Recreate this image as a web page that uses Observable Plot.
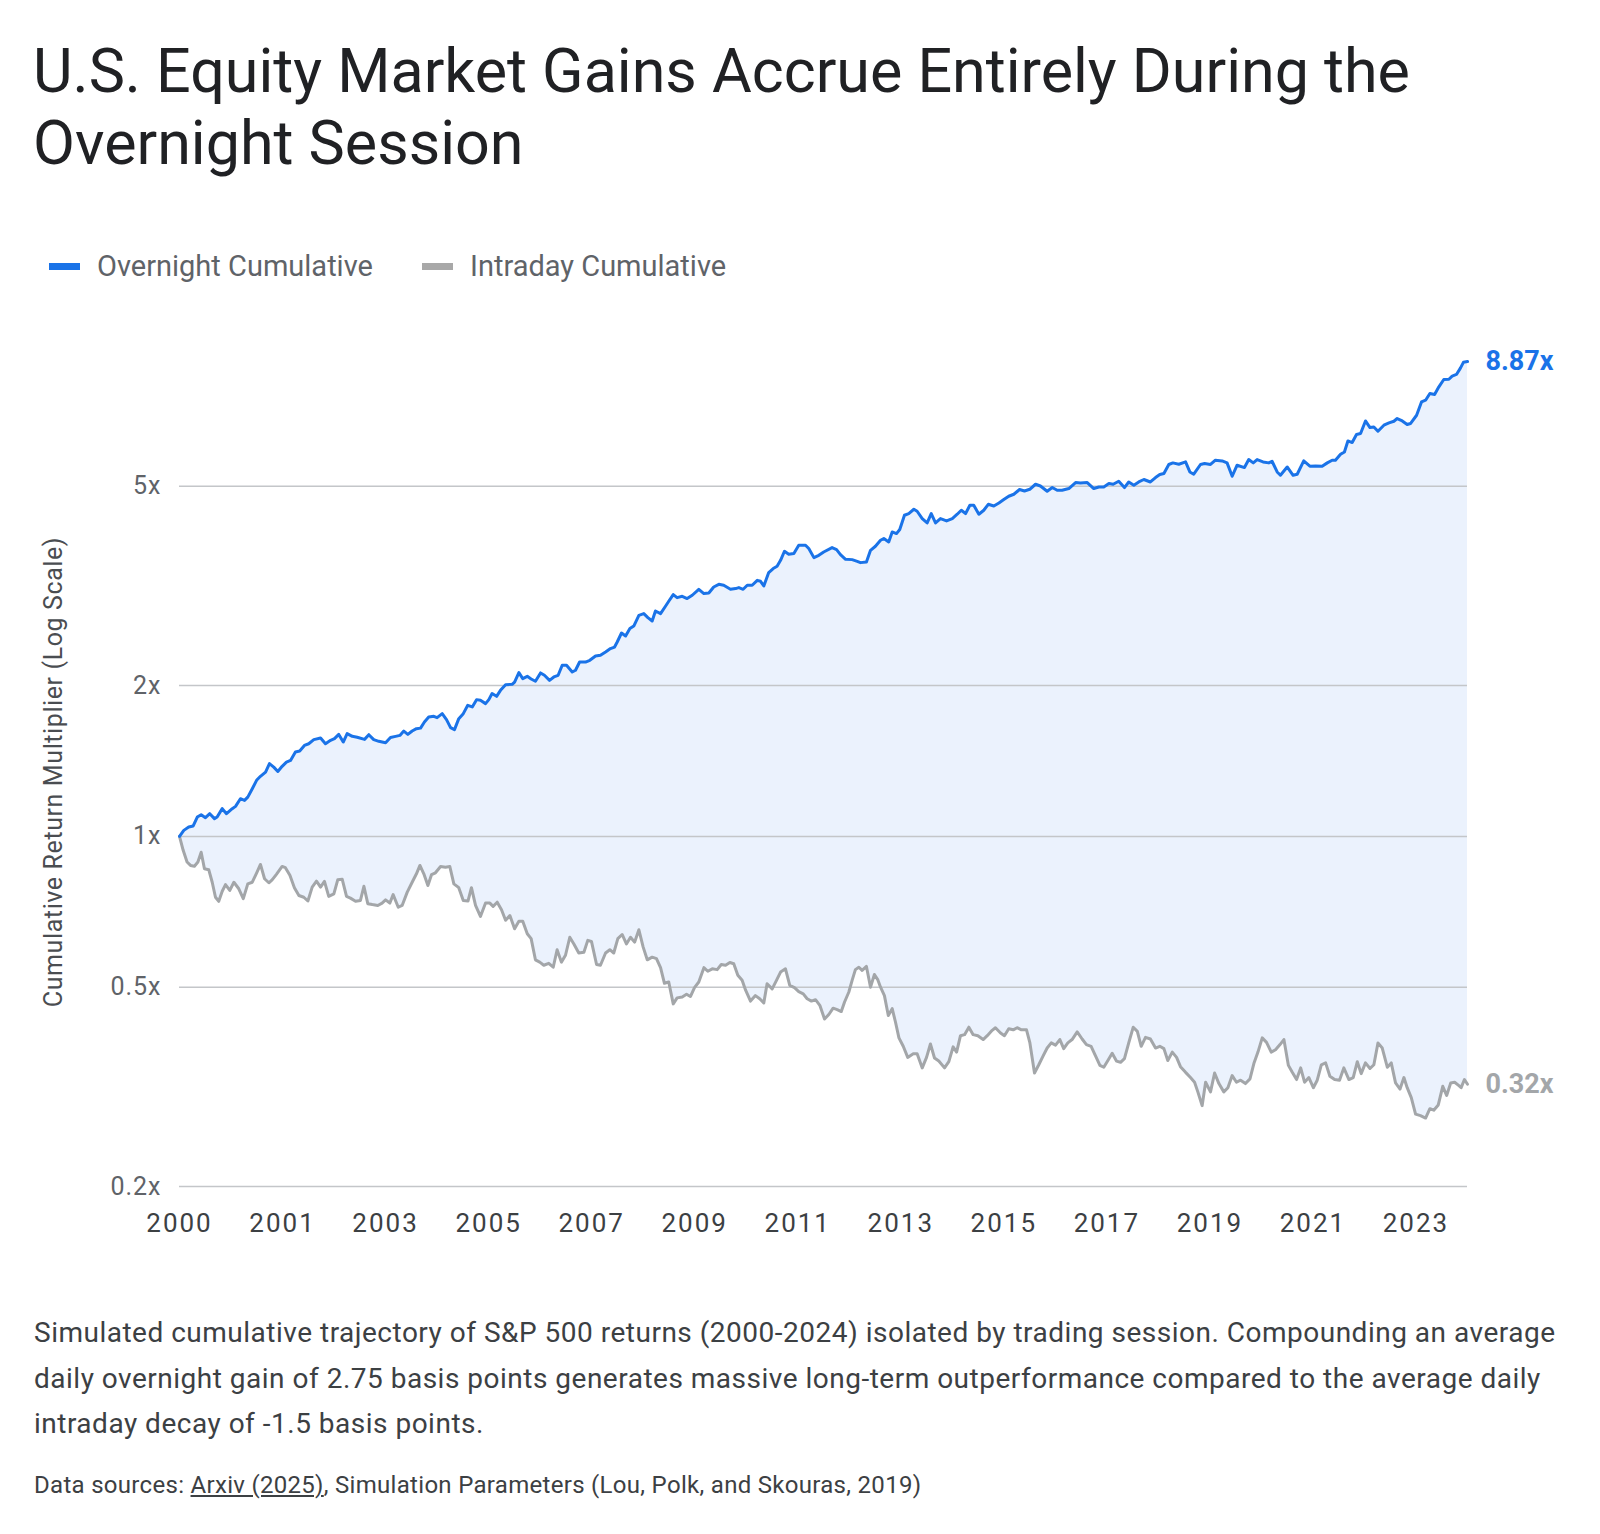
<!DOCTYPE html>
<html>
<head>
<meta charset="utf-8">
<script src="https://cdn.jsdelivr.net/npm/d3@7"></script>
<script src="https://cdn.jsdelivr.net/npm/@observablehq/plot@0.6"></script>
<style>
  body { margin: 0; background: #fff; font-family: Roboto, "Noto Sans", sans-serif; }
  #page { position: relative; width: 1600px; height: 1534px; overflow: hidden; }
  h1 { position: absolute; left: 33px; top: 35px; margin: 0; font-weight: 400; font-size: 61px; line-height: 72px; color: #202124; white-space: nowrap; }
  .legend-item { position: absolute; top: 250px; height: 32px; display: flex; align-items: center; font-size: 29px; color: #5f6368; white-space: nowrap; }
  .swatch { width: 31px; height: 7px; margin-right: 17px; }
  #ylabel { position: absolute; z-index: 2; left: 53px; top: 772px; transform: translate(-50%, -50%) rotate(-90deg); font-size: 25px; letter-spacing: 0.6px; color: #4a4d51; white-space: nowrap; }
  #chart { position: absolute; z-index: 1; left: 0; top: 300px; }
  #chart g[aria-label="x-axis tick label"] text { letter-spacing: 2px; }
  #chart g[aria-label="y-axis tick label"] text { letter-spacing: 1px; }
  #caption { position: absolute; left: 34px; top: 1310px; margin: 0; font-size: 28px; letter-spacing: 0.5px; line-height: 45.5px; color: #3c4043; white-space: nowrap; }
  #sources { position: absolute; left: 34px; top: 1471px; margin: 0; font-size: 24px; letter-spacing: 0.3px; line-height: 28px; color: #3c4043; white-space: nowrap; }
  #sources u { text-decoration: underline; }
</style>
</head>
<body>
<div id="page">
  <h1>U.S. Equity Market Gains Accrue Entirely During the<br>Overnight Session</h1>
  <div class="legend-item" style="left:49px"><span class="swatch" style="background:#1a73e8"></span>Overnight Cumulative</div>
  <div class="legend-item" style="left:422px"><span class="swatch" style="background:#a8a8a8"></span>Intraday Cumulative</div>
  <div id="chart"></div>
  <div id="ylabel">Cumulative Return Multiplier (Log Scale)</div>
  <p id="caption">Simulated cumulative trajectory of S&amp;P 500 returns (2000-2024) isolated by trading session. Compounding an average<br>daily overnight gain of 2.75 basis points generates massive long-term outperformance compared to the average daily<br>intraday decay of -1.5 basis points.</p>
  <p id="sources">Data sources: <u>Arxiv (2025)</u>, Simulation Parameters (Lou, Polk, and Skouras, 2019)</p>
</div>
<script>
// Cumulative growth of $1, indexed by trading day since the start of 2000 (252 days per year).
const overnight = [
  [0,1.00],[21,1.028],[45,1.044],[67,1.049],[87,1.093],[106,1.105],[127,1.090],[148,1.110],[171,1.085],[184,1.093],
  [209,1.136],[230,1.110],[258,1.136],[274,1.148],[298,1.189],[318,1.180],[334,1.198],[356,1.245],[377,1.294],[396,1.318],
  [421,1.344],[440,1.397],[461,1.375],[481,1.348],[502,1.380],[523,1.407],[543,1.418],[567,1.474],[588,1.481],[611,1.519],
  [632,1.531],[657,1.560],[690,1.572],[714,1.531],[739,1.555],[758,1.567],[779,1.598],[801,1.543],[820,1.604],[845,1.584],
  [869,1.577],[905,1.562],[926,1.596],[950,1.560],[975,1.548],[1008,1.538],[1032,1.575],[1057,1.584],[1078,1.591],[1097,1.623],
  [1117,1.598],[1138,1.623],[1159,1.641],[1179,1.645],[1198,1.692],[1219,1.731],[1244,1.737],[1260,1.726],[1285,1.758],[1306,1.711],
  [1326,1.649],[1345,1.634],[1366,1.718],[1388,1.758],[1410,1.827],[1432,1.813],[1453,1.875],[1472,1.869],[1497,1.841],[1513,1.875],
  [1529,1.928],[1551,1.904],[1570,1.957],[1595,2.009],[1627,2.012],[1639,2.033],[1660,2.123],[1679,2.065],[1701,2.087],[1720,2.062],
  [1741,2.040],[1766,2.120],[1785,2.097],[1810,2.049],[1831,2.081],[1852,2.097],[1872,2.196],[1893,2.196],[1921,2.129],[1937,2.146],
  [1957,2.229],[1986,2.229],[2007,2.247],[2035,2.292],[2059,2.299],[2084,2.334],[2108,2.371],[2128,2.388],[2141,2.444],[2162,2.547],
  [2182,2.512],[2203,2.599],[2222,2.630],[2247,2.763],[2271,2.785],[2291,2.734],[2312,2.692],[2328,2.818],[2353,2.785],[2377,2.880],
  [2393,2.947],[2415,3.039],[2434,2.997],[2459,3.015],[2483,2.984],[2508,3.030],[2540,3.114],[2565,3.053],[2589,3.061],[2613,3.147],
  [2638,3.186],[2662,3.172],[2695,3.114],[2720,3.124],[2736,3.138],[2757,3.114],[2777,3.172],[2801,3.172],[2826,3.245],[2842,3.231],
  [2858,3.162],[2882,3.363],[2904,3.425],[2923,3.462],[2940,3.558],[2959,3.709],[2980,3.658],[3005,3.670],[3029,3.813],[3062,3.813],
  [3078,3.755],[3103,3.602],[3127,3.641],[3151,3.697],[3192,3.772],[3214,3.737],[3233,3.652],[3258,3.574],[3290,3.569],[3315,3.541],
  [3331,3.520],[3360,3.530],[3380,3.725],[3404,3.795],[3429,3.901],[3445,3.932],[3469,3.871],[3486,4.053],[3507,4.023],[3523,4.098],
  [3546,4.377],[3567,4.411],[3592,4.499],[3608,4.458],[3633,4.311],[3657,4.225],[3677,4.411],[3698,4.225],[3722,4.311],[3752,4.264],
  [3780,4.311],[3804,4.397],[3824,4.478],[3845,4.411],[3866,4.582],[3885,4.582],[3910,4.397],[3934,4.478],[3956,4.603],[3983,4.567],
  [4008,4.631],[4032,4.704],[4056,4.776],[4081,4.820],[4109,4.926],[4133,4.894],[4159,4.932],[4187,5.047],[4211,5.007],[4244,4.887],
  [4269,4.971],[4293,4.909],[4317,4.909],[4350,4.948],[4383,5.087],[4407,5.077],[4440,5.087],[4472,4.948],[4497,4.984],[4521,4.984],
  [4546,5.063],[4567,5.047],[4594,5.117],[4622,4.971],[4643,5.100],[4668,5.023],[4692,5.100],[4717,5.158],[4749,5.100],[4774,5.205],
  [4795,5.278],[4815,5.302],[4839,5.527],[4859,5.568],[4888,5.534],[4921,5.593],[4942,5.341],[4961,5.285],[4994,5.527],[5014,5.552],
  [5043,5.527],[5067,5.636],[5100,5.618],[5124,5.568],[5149,5.236],[5173,5.508],[5209,5.449],[5230,5.654],[5252,5.568],[5271,5.654],
  [5300,5.593],[5328,5.568],[5344,5.610],[5369,5.341],[5385,5.260],[5418,5.464],[5447,5.260],[5467,5.285],[5499,5.618],[5529,5.483],
  [5557,5.491],[5589,5.483],[5614,5.568],[5638,5.636],[5654,5.636],[5679,5.793],[5698,5.855],[5715,6.159],[5736,6.113],[5757,6.343],
  [5777,6.372],[5801,6.752],[5823,6.550],[5842,6.568],[5862,6.440],[5891,6.621],[5916,6.692],[5940,6.743],[5956,6.827],[5981,6.752],
  [6005,6.641],[6021,6.672],[6051,6.931],[6075,7.369],[6095,7.427],[6116,7.660],[6139,7.625],[6160,7.898],[6184,8.170],[6209,8.177],
  [6225,8.295],[6246,8.360],[6266,8.618],[6280,8.840],[6300,8.87]
];

const intraday = [
  [0,1.00],[18,0.938],[37,0.889],[54,0.875],[73,0.872],[90,0.889],[106,0.930],[122,0.862],[143,0.858],[160,0.810],
  [176,0.756],[192,0.742],[209,0.777],[225,0.801],[246,0.780],[266,0.810],[290,0.786],[312,0.751],[334,0.804],[356,0.810],
  [377,0.845],[396,0.879],[416,0.823],[437,0.808],[453,0.819],[474,0.840],[502,0.871],[518,0.866],[540,0.836],[562,0.790],
  [584,0.762],[608,0.756],[628,0.743],[649,0.792],[670,0.814],[690,0.792],[709,0.813],[730,0.759],[755,0.768],[774,0.819],
  [796,0.821],[817,0.759],[836,0.753],[861,0.742],[885,0.745],[902,0.795],[921,0.734],[943,0.731],[970,0.728],[991,0.736],
  [1008,0.747],[1029,0.736],[1045,0.765],[1070,0.722],[1089,0.728],[1114,0.774],[1138,0.810],[1159,0.842],[1176,0.875],[1195,0.842],
  [1215,0.798],[1233,0.839],[1252,0.846],[1277,0.871],[1301,0.868],[1322,0.871],[1342,0.804],[1366,0.790],[1388,0.745],[1411,0.743],
  [1428,0.790],[1448,0.728],[1472,0.692],[1497,0.736],[1518,0.736],[1534,0.725],[1554,0.739],[1575,0.714],[1595,0.680],[1616,0.695],
  [1639,0.654],[1660,0.677],[1679,0.677],[1701,0.639],[1720,0.625],[1741,0.567],[1762,0.561],[1782,0.553],[1806,0.558],[1828,0.548],
  [1847,0.594],[1868,0.561],[1888,0.579],[1909,0.629],[1929,0.610],[1953,0.585],[1978,0.587],[1997,0.620],[2015,0.617],[2040,0.555],
  [2059,0.553],[2084,0.585],[2105,0.594],[2124,0.585],[2144,0.625],[2165,0.637],[2186,0.610],[2206,0.629],[2226,0.615],[2247,0.651],
  [2268,0.601],[2288,0.567],[2312,0.574],[2333,0.570],[2353,0.547],[2372,0.509],[2393,0.512],[2415,0.463],[2434,0.476],[2459,0.478],
  [2480,0.484],[2499,0.479],[2519,0.499],[2540,0.512],[2565,0.547],[2584,0.538],[2606,0.544],[2630,0.542],[2650,0.555],[2671,0.553],
  [2692,0.560],[2711,0.557],[2731,0.528],[2752,0.516],[2769,0.493],[2793,0.469],[2817,0.481],[2838,0.474],[2858,0.465],[2874,0.508],
  [2899,0.496],[2920,0.516],[2940,0.536],[2964,0.544],[2985,0.504],[3008,0.499],[3029,0.490],[3051,0.485],[3070,0.474],[3091,0.469],
  [3111,0.472],[3132,0.460],[3155,0.432],[3176,0.441],[3197,0.454],[3217,0.451],[3237,0.447],[3253,0.467],[3274,0.489],[3290,0.516],
  [3306,0.542],[3323,0.548],[3339,0.540],[3360,0.550],[3380,0.500],[3399,0.530],[3416,0.517],[3429,0.500],[3448,0.481],[3467,0.439],
  [3486,0.453],[3502,0.426],[3519,0.396],[3540,0.381],[3562,0.362],[3589,0.368],[3608,0.368],[3633,0.345],[3654,0.362],[3673,0.385],
  [3693,0.361],[3714,0.356],[3742,0.345],[3763,0.355],[3784,0.380],[3801,0.371],[3820,0.400],[3840,0.402],[3861,0.416],[3882,0.402],
  [3905,0.400],[3931,0.393],[3951,0.400],[3975,0.410],[3991,0.415],[4016,0.405],[4035,0.400],[4056,0.413],[4078,0.411],[4097,0.415],
  [4118,0.411],[4143,0.411],[4159,0.388],[4182,0.337],[4203,0.350],[4225,0.365],[4244,0.378],[4264,0.387],[4285,0.383],[4306,0.393],
  [4325,0.377],[4345,0.387],[4366,0.393],[4391,0.407],[4415,0.394],[4436,0.384],[4459,0.381],[4480,0.365],[4502,0.349],[4521,0.346],
  [4541,0.357],[4562,0.369],[4583,0.356],[4603,0.354],[4622,0.360],[4643,0.387],[4665,0.416],[4685,0.408],[4704,0.381],[4725,0.397],
  [4749,0.394],[4774,0.378],[4795,0.381],[4815,0.377],[4834,0.357],[4856,0.371],[4877,0.362],[4896,0.347],[4921,0.338],[4945,0.330],
  [4965,0.323],[4981,0.309],[5002,0.290],[5019,0.323],[5043,0.309],[5063,0.337],[5084,0.321],[5108,0.309],[5128,0.315],[5149,0.333],
  [5170,0.323],[5190,0.326],[5214,0.321],[5236,0.328],[5255,0.352],[5275,0.371],[5296,0.396],[5317,0.388],[5340,0.371],[5361,0.375],
  [5383,0.384],[5402,0.393],[5424,0.349],[5443,0.338],[5464,0.327],[5484,0.345],[5503,0.323],[5524,0.330],[5546,0.315],[5565,0.326],
  [5585,0.350],[5606,0.353],[5627,0.332],[5650,0.327],[5674,0.326],[5695,0.345],[5720,0.327],[5741,0.330],[5761,0.355],[5780,0.336],
  [5801,0.353],[5823,0.344],[5842,0.350],[5862,0.387],[5883,0.378],[5908,0.346],[5927,0.353],[5948,0.322],[5970,0.313],[5989,0.330],
  [6005,0.315],[6025,0.301],[6046,0.279],[6070,0.277],[6095,0.274],[6116,0.286],[6135,0.284],[6157,0.291],[6179,0.317],[6198,0.304],
  [6218,0.322],[6237,0.323],[6258,0.318],[6269,0.315],[6285,0.327],[6300,0.32]
];

// Axis ticks: every 504 trading days, labelled with the calendar year of that day.
const tickDays = [0, 504, 1008, 1512, 2016, 2520, 3024, 3528, 4032, 4536, 5040, 5544, 6048];
const tickYears = ["2000", "2001", "2003", "2005", "2007", "2009", "2011", "2013", "2015", "2017", "2019", "2021", "2023"];
const yTicks = [0.2, 0.5, 1, 2, 5];

const BLUE = "#1a73e8";
const GRAY = "#a3a6a9";
const FLOOR = 0.2;

const day = d => d[0];
const val = d => d[1];
const lastOvernight = overnight[overnight.length - 1];
const lastIntraday = intraday[intraday.length - 1];

const chart = Plot.plot({
  width: 1600,
  height: 960,
  marginLeft: 179,
  marginRight: 133,
  marginTop: 35,
  marginBottom: 74,
  style: { fontFamily: "Roboto, 'Noto Sans', sans-serif", background: "white", overflow: "visible" },
  x: { domain: [0, 6300], axis: null },
  y: { type: "log", domain: [FLOOR, 10], axis: null },
  marks: [
    // shaded gap between the two sessions: fill under overnight, then clear under intraday
    Plot.areaY(overnight, { x: day, y1: FLOOR, y2: val, fill: "#ebf2fd" }),
    Plot.areaY(intraday, { x: day, y1: FLOOR, y2: val, fill: "white" }),
    Plot.ruleY(yTicks, { stroke: "#c4c6c9", strokeWidth: 1.5 }),
    Plot.axisY(yTicks, {
      tickSize: 0, tickPadding: 18, label: null,
      tickFormat: d => `${d}x`, fontSize: 25, fill: "#5f6368"
    }),
    Plot.axisX(tickDays, {
      tickSize: 0, tickPadding: 27, label: null,
      tickFormat: d => tickYears[tickDays.indexOf(d)], fontSize: 26, fill: "#3c4043"
    }),
    Plot.line(intraday, { x: day, y: val, stroke: GRAY, strokeWidth: 3, strokeLinejoin: "round" }),
    Plot.line(overnight, { x: day, y: val, stroke: BLUE, strokeWidth: 3, strokeLinejoin: "round" }),
    Plot.text([lastOvernight], {
      x: day, y: val, text: d => `${d[1].toFixed(2)}x`, dx: 18, textAnchor: "start",
      fill: BLUE, fontWeight: 700, fontSize: 27
    }),
    Plot.text([lastIntraday], {
      x: day, y: val, text: d => `${d[1].toFixed(2)}x`, dx: 18, textAnchor: "start",
      fill: GRAY, fontWeight: 700, fontSize: 27
    })
  ]
});

document.getElementById("chart").append(chart);
</script>
</body>
</html>
